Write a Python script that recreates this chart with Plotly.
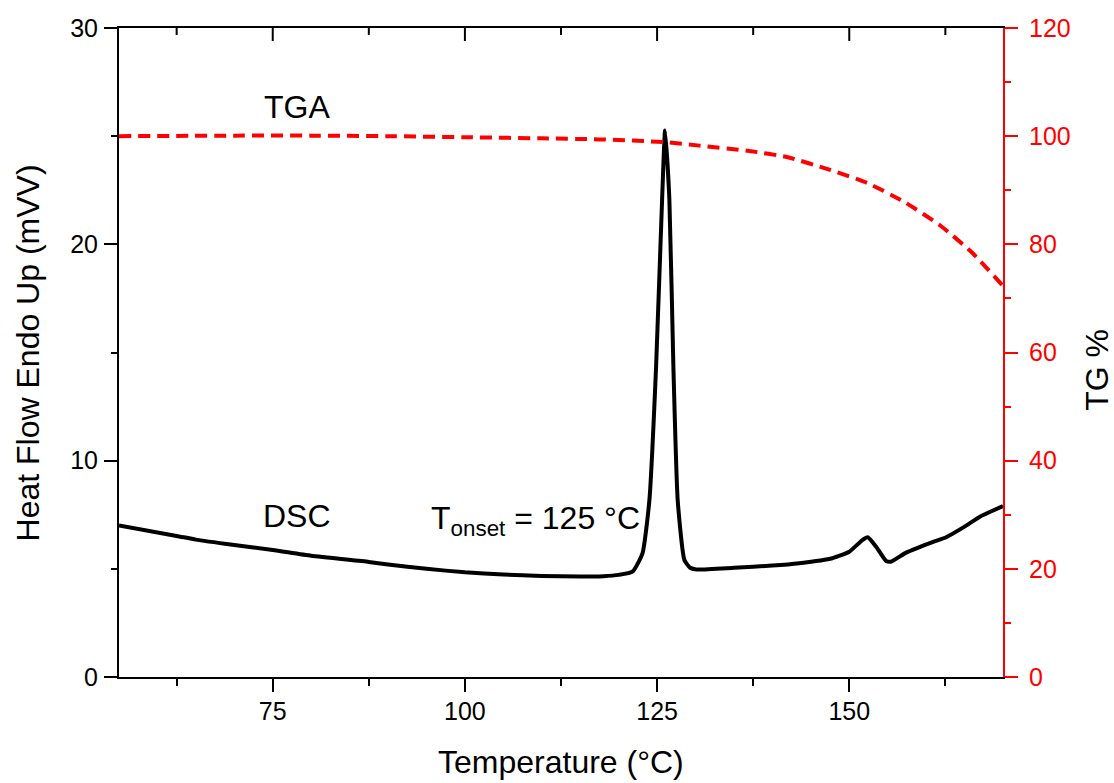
import plotly.graph_objects as go

# DSC heat flow (left axis, mVV)
dsc_temp = [55, 62.5, 65, 70, 75, 80, 87.5, 90, 95, 100, 105, 110, 115, 118, 120,
            121.8, 123.1, 124.0, 124.87, 125.65, 126.04, 126.6, 127.12, 127.68, 128.55,
            129.3, 130.1, 135, 140, 143.5, 147.8, 150, 151.7, 152.4, 153.5, 154.8, 155.4,
            157.4, 161.0, 162.6, 165, 167, 170]
dsc_flow = [7.0, 6.52, 6.35, 6.1, 5.87, 5.6, 5.32, 5.2, 5.0, 4.84, 4.74, 4.67, 4.64, 4.66, 4.72,
            4.87, 5.72, 8.18, 14.35, 22.05, 25.26, 22.05, 14.35, 8.18, 5.41,
            5.05, 4.97, 5.05, 5.15, 5.26, 5.49, 5.79, 6.33, 6.46, 6.02, 5.36, 5.33,
            5.75, 6.26, 6.46, 6.95, 7.41, 7.9]

# TGA mass (right axis, %)
tga_temp = [55, 70, 80, 90, 100, 110, 117.5, 126, 130.5, 137, 142.0, 147.2, 152.4,
            157.2, 162.0, 166.1, 170]
tga_mass = [100.0, 100.1, 100.1, 100.0, 99.8, 99.6, 99.4, 98.9, 98.25, 97.26, 96.1, 93.9, 91.3,
            87.8, 83.3, 78.3, 72.3]

x_range = [55, 170]
y_range = [0, 30]
y2_range = [0, 120]
x_ticks = [75, 100, 125, 150]
x_minor_step = 12.5
y_ticks = [0, 10, 20, 30]
y2_ticks = [0, 20, 40, 60, 80, 100, 120]

FONT = "Arial, Liberation Sans, sans-serif"
TICK_SIZE = 25
TITLE_SIZE = 32

fig = go.Figure()
fig.add_trace(go.Scatter(x=dsc_temp, y=dsc_flow, mode="lines",
                         line=dict(color="black", width=4, shape="spline", smoothing=0.5),
                         showlegend=False, hoverinfo="skip"))
fig.add_trace(go.Scatter(x=tga_temp, y=tga_mass, mode="lines", yaxis="y2",
                         line=dict(color="#ff0000", width=4, dash="12px,7px",
                                   shape="spline", smoothing=0.6),
                         showlegend=False, hoverinfo="skip"))

fig.update_layout(
    width=1114, height=783,
    margin=dict(l=119, r=111, t=28, b=106),
    paper_bgcolor="white", plot_bgcolor="white",
    font=dict(family=FONT, size=TICK_SIZE, color="black"),
    xaxis=dict(range=x_range, tickvals=x_ticks, ticks="outside", ticklen=13, tickwidth=2,
               tickcolor="black", showline=True, linecolor="black", linewidth=2, mirror=True,
               showgrid=False, zeroline=False, ticklabelstandoff=-2, automargin=False,
               minor=dict(ticks="outside", ticklen=7, tickwidth=2, dtick=x_minor_step,
                          tick0=x_ticks[0] - x_minor_step, tickcolor="black", showgrid=False),
               tickfont=dict(size=TICK_SIZE)),
    yaxis=dict(range=y_range, tickvals=y_ticks, ticks="outside", ticklen=13, tickwidth=2,
               tickcolor="black", showline=True, linecolor="black", linewidth=2,
               showgrid=False, zeroline=False, ticklabelstandoff=1, automargin=False,
               minor=dict(ticks="outside", ticklen=6, tickwidth=2, dtick=5,
                          tickcolor="black", showgrid=False),
               tickfont=dict(size=TICK_SIZE)),
    yaxis2=dict(range=y2_range, overlaying="y", side="right", tickvals=y2_ticks,
                ticks="outside", ticklen=13, tickwidth=2, tickcolor="#ff0000",
                showline=True, linecolor="#ff0000", linewidth=2, showgrid=False,
                zeroline=False, ticklabelstandoff=6, automargin=False,
                minor=dict(ticks="outside", ticklen=6, tickwidth=2, dtick=10,
                           tickcolor="#ff0000", showgrid=False),
                tickfont=dict(size=TICK_SIZE, color="#ff0000")),
)

# inward-pointing ticks on the top frame, placed at the x-axis tick values
minor_vals = [t - x_minor_step for t in x_ticks] + [x_ticks[-1] + x_minor_step]
shapes = []
for vals, length in ((x_ticks, 13), (minor_vals, 7)):
    for v in vals:
        shapes.append(dict(type="line", xref="x", yref="paper", x0=v, x1=v,
                           ysizemode="pixel", yanchor=1, y0=0, y1=-length,
                           line=dict(color="black", width=2)))
fig.update_layout(shapes=shapes)

annotations = [
    dict(text="Temperature (°C)", xref="paper", yref="paper", x=0.5, y=-0.131,
         xanchor="center", yanchor="middle", showarrow=False, font=dict(size=TITLE_SIZE)),
    dict(text="Heat Flow Endo Up (mVV)", xref="paper", yref="paper", x=-0.103, y=0.5,
         xanchor="center", yanchor="middle", textangle=-90, showarrow=False,
         font=dict(size=TITLE_SIZE)),
    dict(text="TG %", xref="paper", yref="paper", x=1.106, y=0.473,
         xanchor="center", yanchor="middle", textangle=-90, showarrow=False,
         font=dict(size=TITLE_SIZE)),
    dict(text="TGA", xref="x", yref="y", x=78.2, y=26.33, xanchor="center",
         yanchor="middle", showarrow=False, font=dict(size=TITLE_SIZE)),
    dict(text="DSC", xref="x", yref="y", x=78.2, y=7.44, xanchor="center",
         yanchor="middle", showarrow=False, font=dict(size=TITLE_SIZE)),
    dict(text="T<sub>onset</sub> = 125 °C", xref="x", yref="y", x=95.3, y=7.25,
         xanchor="left", yanchor="middle", showarrow=False, font=dict(size=TITLE_SIZE)),
]
fig.update_layout(annotations=annotations)

fig.write_html(
    "out.html",
    config={"displayModeBar": False},
    post_script="document.body.style.margin='0';document.body.style.overflow='hidden';",
)
